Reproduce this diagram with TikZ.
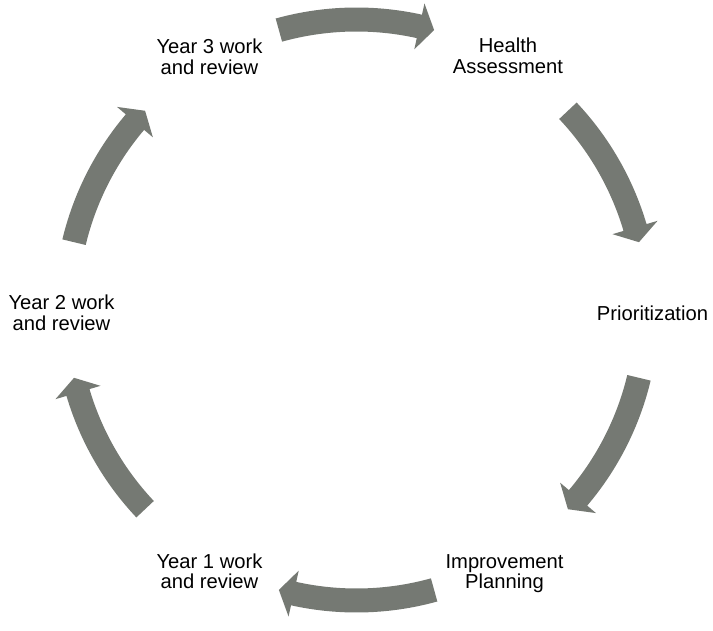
\documentclass[tikz,border=0pt]{standalone}
\usepackage{fontspec}
\setmainfont{Liberation Sans}
\definecolor{cyclegray}{RGB}{117,121,115}
\begin{document}
\begin{tikzpicture}[x=1pt,y=1pt,
  stagelabel/.style={anchor=base,inner sep=0pt,font=\fontsize{20.2}{20.2}\selectfont},
  cyclearrow/.style={fill=cyclegray}]
\useasboundingbox (0,0) rectangle (713,630);

% stage labels
\newcommand{\twolines}[2]{\begin{tabular}[t]{@{}c@{}}#1\\#2\end{tabular}}
\node[stagelabel] (health) at (508,577) {\twolines{Health}{Assessment}};
\node[stagelabel] (prio)   at (652.5,309) {Prioritization};
\node[stagelabel] (plan)   at (504.5,62) {\twolines{Improvement}{Planning}};
\node[stagelabel] (year1)  at (209.5,62) {\twolines{Year 1 work}{and review}};
\node[stagelabel] (year2)  at (61.5,320) {\twolines{Year 2 work}{and review}};
\node[stagelabel] (year3)  at (209.5,576) {\twolines{Year 3 work}{and review}};

% curved block arrows around the cycle centre
\coordinate (c) at (356.5,320);
\def\R{290.5}\def\w{12}\def\h{23.5}\def\hd{3}
\begin{scope}[shift={(c)}]
\foreach \a/\b in {105.5/74.5, 43.3/13.5, -13.5/-43.3, -74.5/-105.5, -136.7/-166.5, 166.5/136.7}{
  \pgfmathsetmacro{\base}{\b+\hd}
  \pgfmathsetmacro{\ro}{\R+\w}
  \pgfmathsetmacro{\ri}{\R-\w}
  \pgfmathsetmacro{\wo}{\R+\h}
  \pgfmathsetmacro{\wi}{\R-\h}
  \fill[cyclearrow] (\a:\ro pt) arc[start angle=\a, end angle=\base, radius=\ro pt]
    -- (\base:\wo pt) -- (\b:\R pt) -- (\base:\wi pt) -- (\base:\ri pt)
    arc[start angle=\base, end angle=\a, radius=\ri pt] -- cycle;
}
\end{scope}
\end{tikzpicture}
\end{document}
